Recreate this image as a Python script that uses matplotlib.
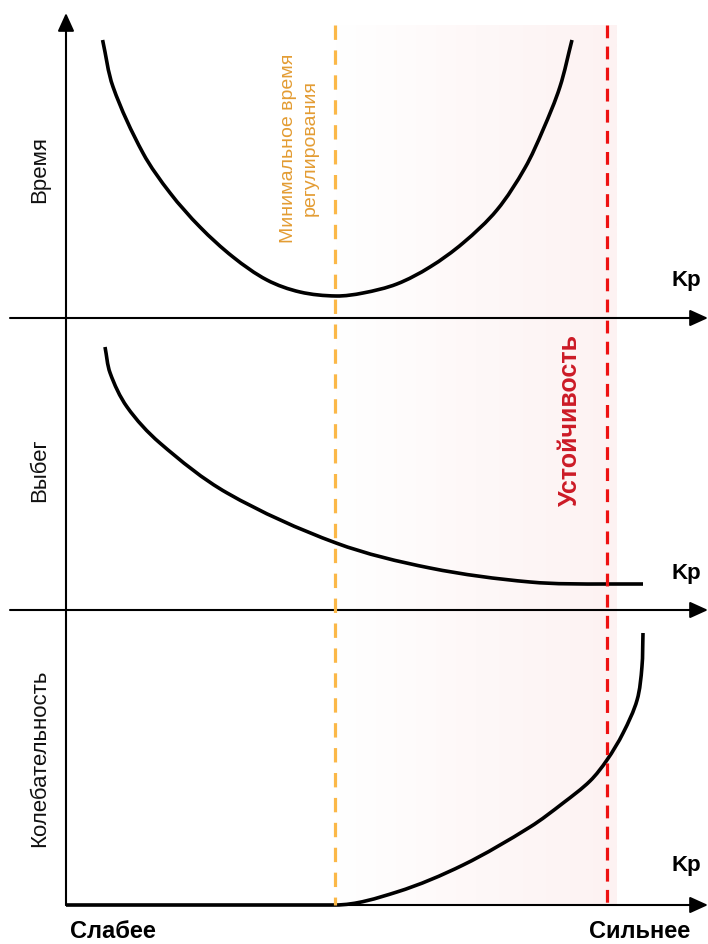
import numpy as np
import matplotlib
matplotlib.use("Agg")
import matplotlib.pyplot as plt
from matplotlib.colors import LinearSegmentedColormap
from matplotlib.path import Path
from matplotlib.patches import PathPatch

plt.rcParams['font.family'] = ['Liberation Sans', 'DejaVu Sans']

# ---------------- data ----------------
# x axis: Kp (normalised: 1.0 = optimum, ~2.0 = stability limit)
time_kp = [0.136, 0.175, 0.286, 0.387, 0.498, 0.621, 0.747, 0.870, 1.004,
           1.104, 1.230, 1.353, 1.476, 1.602, 1.706, 1.773, 1.836, 1.881]
time_val = [278, 231, 165, 125, 91, 61, 38, 26, 22,
            25, 34, 51, 75, 108, 150, 188, 231, 278]

over_kp = [0.145, 0.164, 0.227, 0.349, 0.599, 1.004, 1.353, 1.725, 2.011, 2.145]
over_val = [263, 237, 203, 167, 117, 67, 42, 28, 26, 26]

osc_kp = [0.0, 1.0, 1.230, 1.476, 1.725, 1.848, 1.948, 2.011, 2.071, 2.123, 2.141, 2.145]
osc_val = [0, 0, 13, 40, 78, 102, 124, 145, 172, 205, 238, 272]

kp_opt = 1.0      # minimum settling time
kp_crit = 2.01    # stability limit

panel_labels = ["Время", "Выбег", "Колебательность"]
opt_label = "Минимальное время\nрегулирования"
crit_label = "Устойчивость"
axis_label = "Kp"
weak_label = "Слабее"
strong_label = "Сильнее"

# ---------------- layout ----------------
W, H = 708, 944
KX = 269.0  # px per Kp unit (used only for smooth-path tangents)
fig = plt.figure(figsize=(W / 100, H / 100), dpi=100)
fig.patch.set_facecolor('white')

XL = (-66 / KX, (W - 66) / KX)

def fy(px):
    return 1 - px / H

def fx(px):
    return px / W

def smooth_path(xs, ys):
    """Bezier path through the given points (chord-length cardinal tangents)."""
    P = np.column_stack([np.asarray(xs, float) * KX, np.asarray(ys, float)])
    n = len(P)
    seg = np.diff(P, axis=0)
    d = np.linalg.norm(seg, axis=1)
    flat = np.abs(seg[:, 1]) < 1e-9
    m = np.zeros_like(P)
    for i in range(n):
        if i == 0:
            m[i] = seg[0] / d[0]
        elif i == n - 1:
            m[i] = seg[-1] / d[-1]
        elif flat[i - 1] or flat[i]:
            m[i] = np.array([1.0, 0.0]) * np.sign(seg[i, 0])
        else:
            m[i] = (P[i + 1] - P[i - 1]) / (d[i - 1] + d[i])
    verts = [P[0]]
    codes = [Path.MOVETO]
    for i in range(n - 1):
        c1 = P[i] + m[i] * d[i] / 3
        c2 = P[i + 1] - m[i + 1] * d[i] / 3
        verts += [c1, c2, P[i + 1]]
        codes += [Path.CURVE4] * 3
    V = np.array(verts)
    V[:, 0] /= KX
    return Path(V, codes)

# background gradient
bg = fig.add_axes([0, 0, 1, 1], zorder=0)
bg.set_xlim(*XL)
bg.set_ylim(0, 1)
bg.axis('off')
cmap = LinearSegmentedColormap.from_list('pk', ['#ffffff', '#fef8f8', '#fdf2f2'])
grad = np.linspace(0, 1, 256).reshape(1, -1)
bg.imshow(grad, cmap=cmap, aspect='auto', extent=[kp_opt, kp_crit + 0.035, fy(905), fy(25)],
          interpolation='bilinear', zorder=0)

# panels
bounds = [(0, 318), (318, 610), (610, 905)]
series = [(time_kp, time_val), (over_kp, over_val), (osc_kp, osc_val)]
axes = []
for (top, bot), (xs, ys) in zip(bounds, series):
    ax = fig.add_axes([0, fy(bot), 1, (bot - top) / H], zorder=2)
    ax.set_xlim(*XL)
    ax.set_ylim(0, bot - top)
    ax.patch.set_alpha(0)
    ax.axis('off')
    ax.add_patch(PathPatch(smooth_path(xs, ys), facecolor='none', edgecolor='black',
                           lw=2.6, capstyle='butt', joinstyle='round', zorder=3, clip_on=False))
    axes.append(ax)

# horizontal axis arrows
starts = [-56 / KX, -56 / KX, 0.0]
for ax, x0 in zip(axes, starts):
    ax.annotate('', xy=(XL[1], 0), xytext=(x0, 0), annotation_clip=False,
                arrowprops=dict(arrowstyle='-|>,head_length=1.1,head_width=0.5', lw=1.5,
                                color='black', shrinkA=0, shrinkB=0, mutation_scale=10))

# overlay: vertical axis, dashed lines
ov = fig.add_axes([0, 0, 1, 1], zorder=4)
ov.set_xlim(*XL)
ov.set_ylim(0, 1)
ov.patch.set_alpha(0)
ov.axis('off')
ov.annotate('', xy=(0, fy(13)), xytext=(0, fy(905)), annotation_clip=False,
            arrowprops=dict(arrowstyle='-|>,head_length=1.1,head_width=0.5', lw=1.5,
                            color='black', shrinkA=0, shrinkB=0, mutation_scale=10))
ov.plot([kp_opt, kp_opt], [fy(25), fy(905)], color='#fbb848', lw=2.3, dashes=(4.5, 3.3))
ov.plot([kp_crit, kp_crit], [fy(25), fy(905)], color='#ee1111', lw=2.3, dashes=(4.0, 2.6))

# text
label_y = [170, 470, 758]
for lab, y in zip(panel_labels, label_y):
    fig.text(fx(40), fy(y), lab, rotation=90, ha='center', va='center', fontsize=16, color='#111111')

fig.text(fx(299), fy(148), opt_label, rotation=90, ha='center', va='center', fontsize=14,
         color='#e39c33', linespacing=1.35, multialignment='center')
fig.text(fx(570), fy(420), crit_label, rotation=90, ha='center', va='center', fontsize=18,
         color='#cc1a26', fontweight='bold')

for y in [281, 573, 866]:
    fig.text(fx(686), fy(y), axis_label, ha='center', va='center', fontsize=16, fontweight='bold')

fig.text(fx(113), fy(932), weak_label, ha='center', va='center', fontsize=17, fontweight='bold')
fig.text(fx(640), fy(932), strong_label, ha='center', va='center', fontsize=17, fontweight='bold')

fig.savefig('out.png', dpi=100)
